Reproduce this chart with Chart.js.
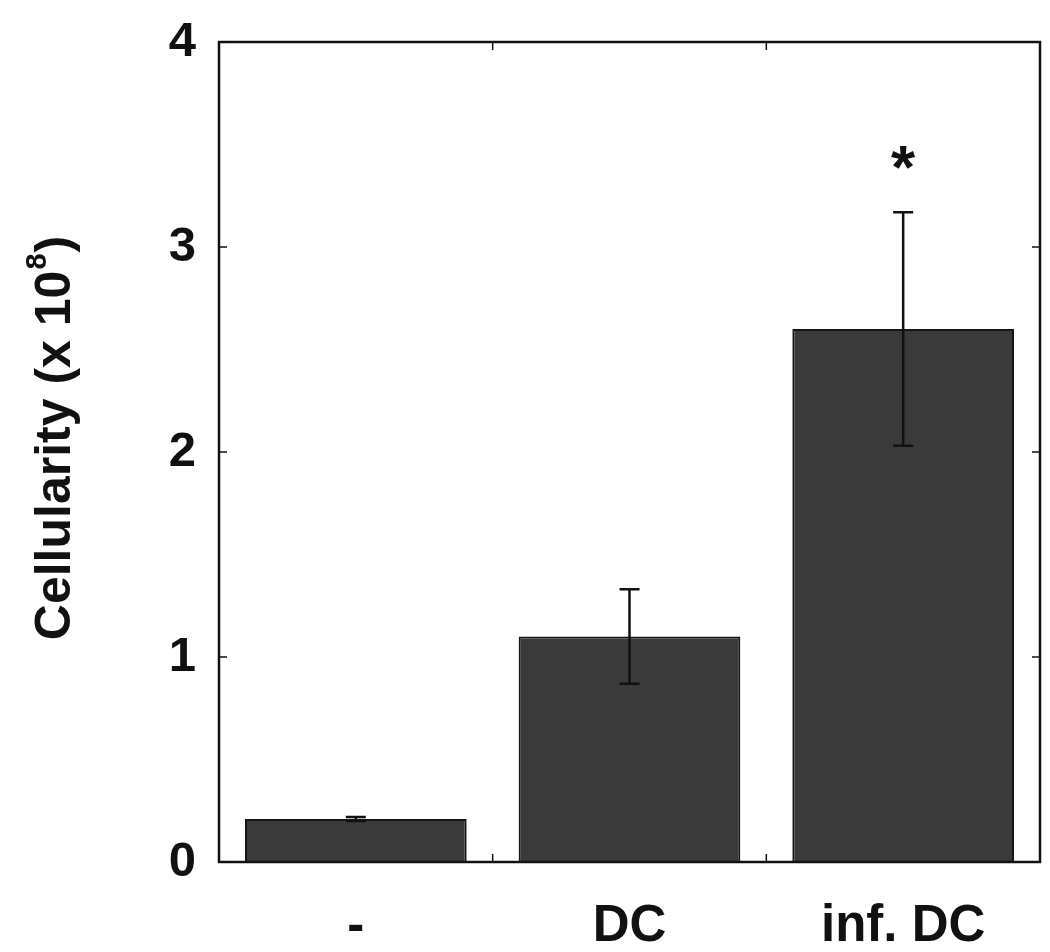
<!DOCTYPE html>
<html>
<head>
<meta charset="utf-8">
<script src="https://cdn.jsdelivr.net/npm/chart.js@4/dist/chart.umd.min.js"></script>
<style>
  html, body { margin: 0; padding: 0; background: #fff; }
  #wrap { width: 1050px; height: 952px; }
</style>
</head>
<body>
<div id="wrap"><canvas id="chart" width="1050" height="952"></canvas></div>
<script>
// Data
const categories = ['-', 'DC', 'inf. DC'];
const cellularity = [0.21, 1.10, 2.60];
const errors = [0.01, 0.23, 0.57];
const significance = ['', '', '*'];
const yTicks = [0, 1, 2, 3, 4];

const FONT = '"Liberation Sans", Arial, sans-serif';
const INK = '#111';

// Box round the plot with small inward ticks, like the original figure
const frame = {
    id: 'frame',
    afterDatasetsDraw(chart) {
        const { ctx, chartArea: a, scales } = chart;
        ctx.save();
        ctx.strokeStyle = INK;
        ctx.lineWidth = 2.5;
        ctx.strokeRect(a.left, a.top, a.right - a.left, a.bottom - a.top);

        const len = 8;
        ctx.lineWidth = 1.5;
        ctx.beginPath();
        yTicks.forEach(v => {
            const y = scales.y.getPixelForValue(v);
            ctx.moveTo(a.left, y); ctx.lineTo(a.left + len, y);
            ctx.moveTo(a.right, y); ctx.lineTo(a.right - len, y);
        });
        // ticks between categories
        for (let i = 0; i < categories.length - 1; i++) {
            const x = (scales.x.getPixelForValue(i) + scales.x.getPixelForValue(i + 1)) / 2;
            ctx.moveTo(x, a.bottom); ctx.lineTo(x, a.bottom - len);
            ctx.moveTo(x, a.top); ctx.lineTo(x, a.top + len);
        }
        ctx.stroke();
        ctx.restore();
    }
};

// Error bars and significance marks
const errorBars = {
    id: 'errorBars',
    afterDatasetsDraw(chart) {
        const { ctx, scales } = chart;
        ctx.save();
        ctx.strokeStyle = INK;
        ctx.lineWidth = 2.5;
        cellularity.forEach((v, i) => {
            const x = scales.x.getPixelForValue(i);
            const hi = scales.y.getPixelForValue(v + errors[i]);
            const lo = scales.y.getPixelForValue(v - errors[i]);
            const cap = 10;
            ctx.beginPath();
            ctx.moveTo(x, hi); ctx.lineTo(x, lo);
            ctx.moveTo(x - cap, hi); ctx.lineTo(x + cap, hi);
            ctx.moveTo(x - cap, lo); ctx.lineTo(x + cap, lo);
            ctx.stroke();
            if (significance[i]) {
                ctx.fillStyle = INK;
                ctx.font = 'bold 62px ' + FONT;
                ctx.textAlign = 'center';
                ctx.textBaseline = 'middle';
                ctx.fillText(significance[i], x, scales.y.getPixelForValue(v + errors[i] + 0.23) + 6);
            }
        });
        ctx.restore();
    }
};

// Rotated y title with a superscript exponent
const yTitle = {
    id: 'yTitle',
    afterDraw(chart) {
        const { ctx } = chart;
        const main = 'Cellularity (x 10';
        const sup = '8';
        const end = ')';
        const big = 'bold 50px ' + FONT;
        const small = 'bold 29px ' + FONT;
        ctx.save();
        ctx.fillStyle = INK;
        ctx.textBaseline = 'alphabetic';
        ctx.font = big;
        const wMain = ctx.measureText(main).width;
        const wEnd = ctx.measureText(end).width;
        ctx.font = small;
        const wSup = ctx.measureText(sup).width;
        const total = wMain + wSup + wEnd + 2;
        ctx.translate(70, 438);
        ctx.rotate(-Math.PI / 2);
        let x = -total / 2;
        ctx.font = big;
        ctx.textAlign = 'left';
        ctx.fillText(main, x, 0);
        x += wMain + 1;
        ctx.font = small;
        ctx.fillText(sup, x, -24);
        x += wSup + 1;
        ctx.font = big;
        ctx.fillText(end, x, 0);
        ctx.restore();
    }
};

new Chart(document.getElementById('chart'), {
    type: 'bar',
    data: {
        labels: categories,
        datasets: [{
            data: cellularity,
            backgroundColor: '#3a3a3a',
            borderColor: '#161616',
            borderWidth: 2,
            borderSkipped: 'bottom',
            barPercentage: 0.81,
            categoryPercentage: 1.0
        }]
    },
    options: {
        responsive: false,
        animation: false,
        events: [],
        layout: { padding: { left: 0, right: 10, top: 42, bottom: 0 } },
        plugins: {
            legend: { display: false },
            tooltip: { enabled: false },
            title: { display: false }
        },
        scales: {
            x: {
                offset: true,
                grid: { display: false, drawTicks: false },
                border: { display: false },
                ticks: {
                    color: INK,
                    font: { family: FONT, size: 51, weight: 'bold' },
                    padding: 34,
                    maxRotation: 0
                },
                afterFit(scale) {
                    scale.height = 90;
                    scale.paddingLeft = 0;
                    scale.paddingRight = 0;
                }
            },
            y: {
                min: 0,
                max: 4,
                grid: { display: false, drawTicks: false },
                border: { display: false },
                ticks: {
                    stepSize: 1,
                    color: INK,
                    font: { family: FONT, size: 49, weight: 'bold' },
                    padding: 23
                },
                afterFit(scale) {
                    scale.width = 219;
                    scale.paddingTop = 0;
                    scale.paddingBottom = 0;
                }
            }
        }
    },
    plugins: [frame, errorBars, yTitle]
});
</script>
</body>
</html>
